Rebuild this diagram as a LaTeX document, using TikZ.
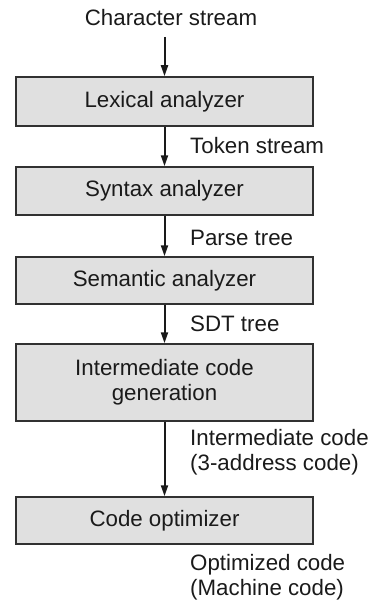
\documentclass[tikz,border=0pt]{standalone}
\usepackage{fontspec}
\setmainfont{Liberation Sans}
\usetikzlibrary{arrows.meta}
\definecolor{boxfill}{HTML}{E0E0E0}
\definecolor{ink}{HTML}{1A1A1A}
\begin{document}
\begin{tikzpicture}[x=1pt,y=-1pt,
  font=\fontsize{22.3}{25}\selectfont, text=ink,
  box/.style={draw=ink!90, line width=1.5pt, fill=boxfill, minimum width=297pt, inner sep=0pt, align=center},
  arr/.style={draw=ink, line width=2pt, -{Triangle[length=11pt,width=7pt]}},
  lbl/.style={anchor=west, align=left, inner sep=0pt}]
\useasboundingbox (0,0) rectangle (374,602);
\node[inner sep=0pt] (cs) at (171,18) {Character stream};
\coordinate (c0) at (164.5,37);
\node[box, minimum height=49pt] (b1) at (164.5,101.5) {Lexical analyzer};
\node[box, minimum height=48pt] (b2) at (164.5,191) {Syntax analyzer};
\node[box, minimum height=47pt] (b3) at (164.5,280.5) {Semantic analyzer};
\node[box, minimum height=77pt] (b4) at (164.5,382.5) {Intermediate code\\generation};
\node[box, minimum height=47pt] (b5) at (164.5,520.5) {Code optimizer};
\draw[arr] (c0) -- (b1);
\draw[arr] (b1) -- (b2);
\draw[arr] (b2) -- (b3);
\draw[arr] (b3) -- (b4);
\draw[arr] (b4) -- (b5);
\node[lbl] (l1) at (190,146) {Token stream};
\node[lbl] (l2) at (190,238) {Parse tree};
\node[lbl] (l3) at (190,324) {SDT tree};
\node[lbl] (l4) at (190,452.5) {Intermediate code\\(3-address code)};
\node[lbl] (l5) at (190,577.5) {Optimized code\\(Machine code)};
\end{tikzpicture}
\end{document}
